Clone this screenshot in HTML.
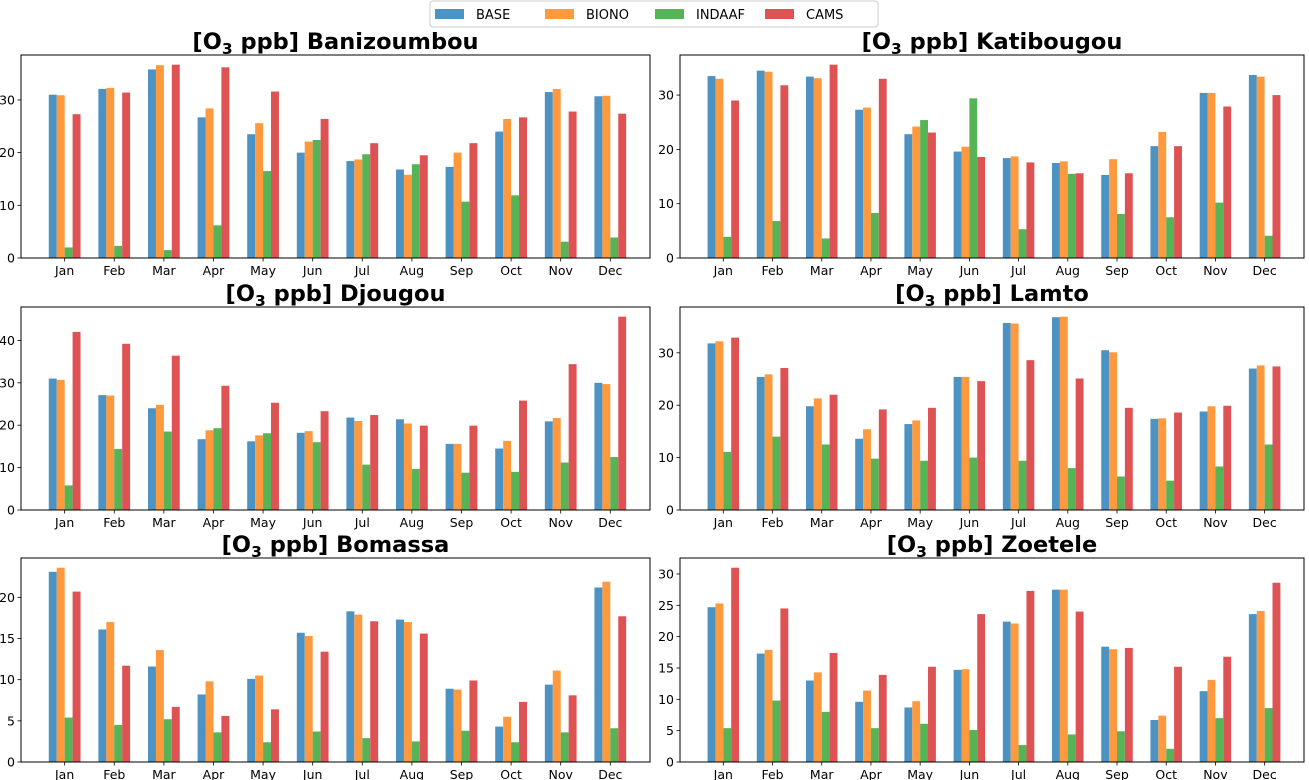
<!DOCTYPE html>
<html><head><meta charset="utf-8"><style>
body{margin:0;background:#fff;}
svg{display:block;font-family:"DejaVu Sans","Liberation Sans",sans-serif;}
</style></head><body>
<svg id="c" width="1309" height="780"></svg>
<script>
const months=["Jan","Feb","Mar","Apr","May","Jun","Jul","Aug","Sep","Oct","Nov","Dec"];
const seriesNames=["BASE","BIONO","INDAAF","CAMS"];
const stations=["Banizoumbou","Katibougou","Djougou","Lamto","Bomassa","Zoetele"];
const baniBase=[31,32.1,35.8,26.7,23.5,20,18.4,16.8,17.3,24,31.5,30.7];
const baniBiono=[30.9,32.3,36.6,28.4,25.6,22.1,18.7,15.8,20,26.4,32.1,30.8];
const baniIndaaf=[2,2.3,1.5,6.2,16.5,22.4,19.7,17.8,10.7,11.9,3.1,3.9];
const baniCams=[27.3,31.4,36.7,36.2,31.6,26.4,21.8,19.5,21.8,26.7,27.8,27.4];
const katiBase=[33.5,34.5,33.4,27.3,22.8,19.6,18.4,17.5,15.3,20.6,30.4,33.7];
const katiBiono=[33,34.3,33.1,27.7,24.2,20.5,18.7,17.8,18.2,23.2,30.4,33.4];
const katiIndaaf=[3.9,6.8,3.6,8.3,25.4,29.4,5.3,15.5,8.1,7.5,10.2,4.1];
const katiCams=[29,31.8,35.6,33,23.1,18.6,17.6,15.6,15.6,20.6,27.9,30];
const djouBase=[31,27.1,24,16.7,16.2,18.2,21.8,21.4,15.6,14.5,20.9,30];
const djouBiono=[30.7,27,24.8,18.8,17.6,18.6,21,20.4,15.6,16.3,21.7,29.7];
const djouIndaaf=[5.8,14.4,18.5,19.3,18.1,16,10.7,9.7,8.8,9,11.2,12.5];
const djouCams=[42,39.2,36.4,29.3,25.3,23.3,22.4,19.9,19.9,25.8,34.4,45.6];
const lamtBase=[31.8,25.4,19.8,13.6,16.4,25.4,35.7,36.8,30.5,17.4,18.8,27];
const lamtBiono=[32.2,25.9,21.3,15.4,17.1,25.4,35.6,36.9,30.1,17.5,19.8,27.6];
const lamtIndaaf=[11.1,14,12.5,9.8,9.4,10,9.4,8,6.4,5.6,8.3,12.5];
const lamtCams=[32.9,27.1,22,19.2,19.5,24.6,28.6,25.1,19.5,18.6,19.9,27.4];
const bomaBase=[23.1,16.1,11.6,8.2,10.1,15.7,18.3,17.3,8.9,4.3,9.4,21.2];
const bomaBiono=[23.6,17,13.6,9.8,10.5,15.3,17.9,17,8.8,5.5,11.1,21.9];
const bomaIndaaf=[5.4,4.5,5.2,3.6,2.4,3.7,2.9,2.5,3.8,2.4,3.6,4.1];
const bomaCams=[20.7,11.7,6.7,5.6,6.4,13.4,17.1,15.6,9.9,7.3,8.1,17.7];
const zoetBase=[24.7,17.3,13,9.6,8.7,14.7,22.4,27.5,18.4,6.7,11.3,23.6];
const zoetBiono=[25.3,17.9,14.3,11.4,9.7,14.8,22.1,27.5,18,7.4,13.1,24.1];
const zoetIndaaf=[5.4,9.8,8,5.4,6.1,5.1,2.7,4.4,4.9,2.1,7,8.6];
const zoetCams=[31,24.5,17.4,13.9,15.2,23.6,27.3,24,18.2,15.2,16.8,28.6];
const tickSteps=[10,10,10,10,5,5];

const data=[[baniBase,baniBiono,baniIndaaf,baniCams],[katiBase,katiBiono,katiIndaaf,katiCams],
[djouBase,djouBiono,djouIndaaf,djouCams],[lamtBase,lamtBiono,lamtIndaaf,lamtCams],
[bomaBase,bomaBiono,bomaIndaaf,bomaCams],[zoetBase,zoetBiono,zoetIndaaf,zoetCams]];
const colors=["#4c92c3","#ff993e","#56b356","#de5253"];
const NS="http://www.w3.org/2000/svg";
const svg=document.getElementById('c');
function mk(t,a,p){const e=document.createElementNS(NS,t);for(const k in a)e.setAttribute(k,a[k]);(p||svg).appendChild(e);return e;}
const cols=[[21,650],[680,1304]];const rows=[[55,258],[307,510],[558,762]];
const xmin=-0.88,xmax=11.8,bw=0.16;
stations.forEach((st,i)=>{
  const [x0,x1]=cols[i%2],[y0,y1]=rows[Math.floor(i/2)];
  const g=mk('g',{});
  
  
  const ser=data[i];
  let mx=0;ser.forEach(s=>s.forEach(v=>mx=Math.max(mx,v)));
  const ymax=mx*1.05;
  const X=v=>x0+(v-xmin)/(xmax-xmin)*(x1-x0);
  const Y=v=>y1-v/ymax*(y1-y0);
  ser.forEach((s,k)=>s.forEach((v,m)=>{
    const c=m+(k-1.5)*bw;
    const r=mk('rect',{x:X(c-bw/2),y:Y(v),width:X(c+bw/2)-X(c-bw/2),height:y1-Y(v),fill:colors[k]},g);
    
    
  }));
  for(let t=0;t<=ymax;t+=tickSteps[i]){
    mk('line',{x1:X(xmin)-3.5,x2:X(xmin),y1:Y(t),y2:Y(t),stroke:'#000','stroke-width':0.8},g);
    const tx=mk('text',{x:X(xmin)-6,y:Y(t)+4.5,'text-anchor':'end','font-size':12.5},g);tx.textContent=t;
    
    
  }
  months.forEach((m,j)=>{
    mk('line',{x1:X(j),x2:X(j),y1:y1,y2:y1+3.5,stroke:'#000','stroke-width':0.8},g);
    const tx=mk('text',{x:X(j),y:y1+17,'text-anchor':'middle','font-size':12.5},g);tx.textContent=m;
    
    
  });
  const fr=mk('rect',{x:x0,y:y0,width:x1-x0,height:y1-y0,fill:'none',stroke:'#000','stroke-width':1},g);
  
  
  const tt=mk('text',{x:(x0+x1)/2,y:y0-6,'text-anchor':'middle','font-size':22.5,'font-weight':'bold'},g);
  tt.innerHTML='[O<tspan font-size="15.5" dy="5">3</tspan><tspan dy="-5"> ppb] '+st+'</tspan>';
  
  
});
const lg=mk('g',{});


mk('rect',{x:430,y:1,width:448,height:26,rx:3,fill:'#fff',stroke:'#ccc'},lg);
const lx=[435,545,655,765];
seriesNames.forEach((n,k)=>{
  const e=mk('g',{},lg);
  
  
  mk('rect',{x:lx[k],y:9,width:29,height:10,fill:colors[k]},e);
  const t=mk('text',{x:lx[k]+41,y:19,'font-size':13},e);t.textContent=n;
});
</script>
</body></html>
